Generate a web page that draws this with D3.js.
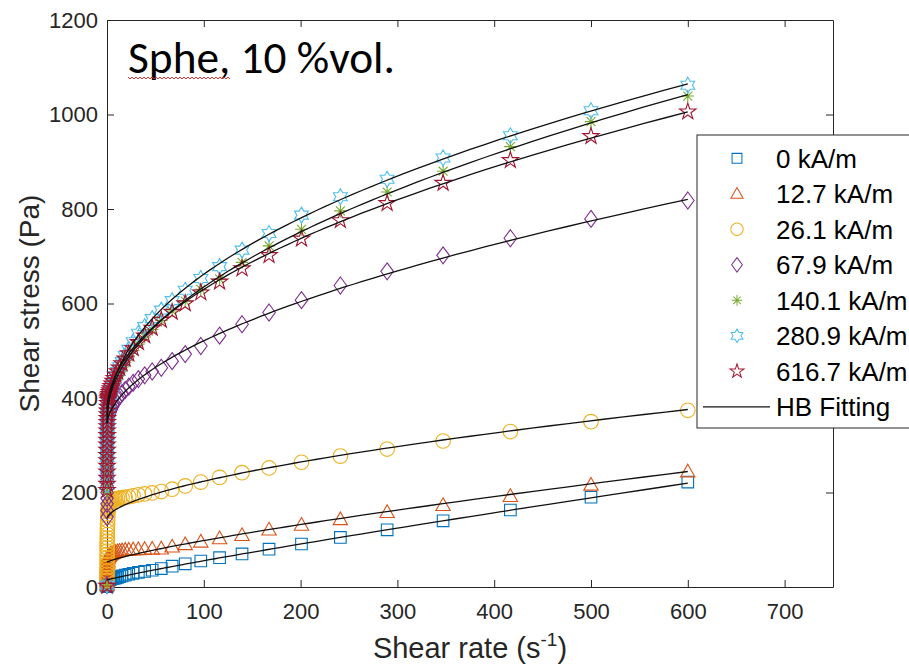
<!DOCTYPE html>
<html><head><meta charset="utf-8">
<script src="https://cdn.jsdelivr.net/npm/d3@7"></script>
<style>
html,body{margin:0;padding:0;background:#fff;}
svg{display:block;}
</style></head>
<body>
<svg id="chart" width="909" height="665"></svg>
<script>
// ---------------- data ----------------
const titleText = "Sphe, 10 %vol.";
const xTitle = "Shear rate (s";
const xTitleSup = "-1";
const yTitle = "Shear stress (Pa)";
const seriesNames = ["0 kA/m", "12.7 kA/m", "26.1 kA/m", "67.9 kA/m", "140.1 kA/m", "280.9 kA/m", "616.7 kA/m"];
const fitName = "HB Fitting";
const xTicks = [0, 100, 200, 300, 400, 500, 600, 700];
const yTicks = [0, 200, 400, 600, 800, 1000, 1200];

// shear rate (1/s)
const rates = [0.027, 0.032, 0.038, 0.046, 0.055, 0.066, 0.079, 0.095, 0.114, 0.137,
  0.164, 0.197, 0.236, 0.283, 0.340, 0.408, 0.490, 0.588, 0.705, 0.846,
  1.02, 1.22, 1.46, 1.75, 2.11, 2.53, 3.03, 3.64, 4.37, 5.24,
  6.29, 7.55, 9.06, 10.9, 13.0, 15.6, 18.8, 22.5, 27.0, 32.4,
  38.9, 46.7, 56.1, 67.3, 80.8, 96.9, 116.3, 139.5, 167.4, 200.9,
  241.1, 289.4, 347.2, 416.7, 500, 600];

// shear stress (Pa) per field strength
const stress0 = [1, 2, 3, 4, 5, 5.5, 6, 6.5, 7, 7.5,
  8, 8.5, 9, 9.5, 10, 10.5, 11, 11.5, 12, 12.5,
  13, 13.5, 14, 14.5, 15, 15.5, 16, 16.5, 17, 17.5,
  18, 18.5, 19.5, 20.5, 22, 23.5, 25, 27, 29, 31,
  33, 35.5, 39, 44, 49, 55, 62, 70, 80, 91,
  105, 121, 140, 163, 190, 222];
const stress127 = [3, 6, 9, 12, 15, 18, 21, 24, 27, 30,
  33, 36, 39, 42, 45, 47, 49, 51, 53, 55,
  60, 62, 64, 65, 66, 67, 68, 69, 70, 71,
  72, 73, 74, 75, 76, 77, 78, 78.5, 79, 79.5,
  80, 80.5, 81, 85, 90, 95.5, 102.5, 109.5, 121, 131,
  143, 158, 173, 192, 216, 244];
const stress261 = [14, 20, 27, 34, 41, 48, 55, 62, 69, 76,
  83, 90, 97, 104, 111, 118, 125, 132, 141, 150,
  160, 163, 166, 169, 172, 174, 176, 178, 180, 182,
  184, 185, 186, 187, 188, 189, 190, 191, 193, 195,
  197, 199, 202, 207, 214, 222, 232, 242, 252, 264,
  277, 292, 309, 329, 350, 374];
const stress679 = [4, 148, 162, 176, 188, 200, 214, 228, 241, 254,
  266, 278, 290, 301, 311, 320, 328, 336, 342, 348,
  353, 357, 360, 362, 365, 367, 370, 373, 376, 380,
  384, 388, 393, 398, 404, 410, 417, 424, 432, 440,
  448, 456, 464, 478, 493, 510, 532, 556, 581, 607,
  638, 668, 702, 738, 779, 818];
const stress1401 = [8, 200, 212, 224, 236, 247, 258, 268, 278, 288,
  297, 306, 315, 323, 331, 339, 346, 354, 362, 371,
  380, 383, 386, 390, 394, 398, 402, 407, 412, 418,
  424, 431, 438, 446, 455, 465, 475, 487, 500, 514,
  529, 545, 564, 584, 605, 630, 652, 687, 722, 757,
  796, 836, 880, 932, 985, 1039];
const stress2809 = [4, 215, 228, 240, 252, 263, 274, 284, 294, 304,
  313, 322, 331, 339, 347, 354, 360, 366, 371, 376,
  380, 383, 387, 391, 395, 400, 405, 411, 417, 423,
  430, 438, 447, 456, 466, 477, 490, 503, 519, 537,
  551, 568, 586, 606, 628, 653, 678, 713, 748, 787,
  826, 863, 908, 955, 1008, 1062];
const stress6167 = [2, 205, 218, 231, 244, 256, 268, 279, 290, 301,
  311, 321, 331, 340, 349, 357, 365, 373, 381, 389,
  396, 399, 402, 405, 408, 412, 416, 420, 425, 430,
  436, 442, 449, 456, 464, 473, 483, 494, 505, 518,
  532, 548, 565, 582, 600, 623, 646, 674, 702, 737,
  776, 812, 855, 903, 954, 1006];

// Herschel-Bulkley fit parameters (tau = tau0 + K * rate^n)
const hbTau0 = [14.7, 52.5, 145.3, 343, 354, 337, 371];
const hbK    = [0.648, 1.15, 4.96, 14.15, 28.1, 40.9, 25.9];
const hbN    = [0.9, 0.8, 0.6, 0.55, 0.5, 0.45, 0.5];
const fitRange = [0.05, 600];

// ---------------- styles ----------------
const colors = ["#0072BD", "#D95319", "#EDB120", "#7E2F8E", "#77AC30", "#4DBEEE", "#A2142F"];
const symbols = ["square", "triangle", "circle", "diamond", "asterisk", "hexagram", "pentagram"];
const stressSeries = [stress0, stress127, stress261, stress679, stress1401, stress2809, stress6167];
const axisColor = "#262626";
const labelFont = "'Liberation Sans', Arial, Helvetica, sans-serif";

function starPath(nPts, rOut, rIn) {
  const pts = d3.range(nPts * 2).map(k => {
    const a = -Math.PI / 2 + k * Math.PI / nPts;
    const r = k % 2 === 0 ? rOut : rIn;
    return [r * Math.cos(a), r * Math.sin(a)];
  });
  return "M" + pts.map(p => p[0].toFixed(2) + "," + p[1].toFixed(2)).join("L") + "Z";
}
function markerPath(type) {
  switch (type) {
    case "square": return "M-5.8,-5.8H5.8V5.8H-5.8Z";
    case "triangle": return "M0,-7.5L7.2,5.2L-7.2,5.2Z";
    case "circle": return "M-7.3,0a7.3,7.3 0 1,0 14.6,0a7.3,7.3 0 1,0 -14.6,0Z";
    case "diamond": return "M0,-8.5L6.3,0L0,8.5L-6.3,0Z";
    case "asterisk": {
      const r = 6.3, d = r * Math.SQRT1_2;
      return `M0,${-r}V${r}M${-r},0H${r}M${-d},${-d}L${d},${d}M${-d},${d}L${d},${-d}`;
    }
    case "hexagram": return starPath(6, 8, 8 / Math.sqrt(3));
    case "pentagram": return starPath(5, 8.6, 8.6 * 0.382);
  }
}

// ---------------- chart ----------------
const svg = d3.select("#chart");
const x = d3.scaleLinear().domain([0, 750]).range([107, 833]);
const y = d3.scaleLinear().domain([0, 1200]).range([587, 20]);

function styleAxis(g) {
  g.selectAll(".domain").attr("stroke", axisColor).attr("stroke-width", 1);
  g.selectAll(".tick line").attr("stroke", axisColor).attr("stroke-width", 1);
  g.selectAll(".tick text").attr("fill", axisColor).style("font-family", labelFont).style("font-size", "22px");
}

svg.append("g").attr("transform", "translate(0,587)")
  .call(d3.axisBottom(x).tickValues(xTicks).tickFormat(d3.format("d")).tickSizeInner(-7).tickSizeOuter(0).tickPadding(16))
  .call(styleAxis);
svg.append("g").attr("transform", "translate(107,0)")
  .call(d3.axisLeft(y).tickValues(yTicks).tickFormat(d3.format("d")).tickSizeInner(-7).tickSizeOuter(0).tickPadding(9))
  .call(styleAxis);
svg.append("g").attr("transform", "translate(0,20)")
  .call(d3.axisTop(x).tickValues(xTicks).tickSizeInner(-7).tickSizeOuter(0).tickFormat(() => ""))
  .call(styleAxis);
svg.append("g").attr("transform", "translate(833,0)")
  .call(d3.axisRight(y).tickValues(yTicks).tickSizeInner(-7).tickSizeOuter(0).tickFormat(() => ""))
  .call(styleAxis);

// data markers
stressSeries.forEach((vals, i) => {
  const pts = rates.map((r, j) => [r, vals[j]]);
  svg.append("g").selectAll("path").data(pts).join("path")
    .attr("transform", d => `translate(${x(d[0])},${y(d[1])})`)
    .attr("d", markerPath(symbols[i]))
    .attr("fill", "none")
    .attr("stroke", colors[i])
    .attr("stroke-width", 1.1);
});

// HB fitting curves
const fitRates = d3.range(0, 241).map(k => fitRange[0] * Math.pow(fitRange[1] / fitRange[0], k / 240));
hbTau0.forEach((t0, i) => {
  const line = d3.line()
    .x(g => x(g))
    .y(g => y(t0 + hbK[i] * Math.pow(g, hbN[i])));
  svg.append("path").datum(fitRates)
    .attr("d", line)
    .attr("fill", "none")
    .attr("stroke", "#111")
    .attr("stroke-width", 1.3);
});

// title annotation
const title = svg.append("text")
  .attr("x", 128).attr("y", 73)
  .style("font-family", "Carlito, Calibri, Lato, 'Open Sans', sans-serif")
  .style("font-size", "40px")
  .attr("fill", "#000")
  .text(titleText);
const tw = title.node().getComputedTextLength();
title.style("font-size", (40 * 267 / tw).toFixed(2) + "px");
const wordLen = title.node().getSubStringLength(0, 5);
const sq = d3.range(0, Math.floor(wordLen / 2) + 1).map(k => [128 + k * 2, 78 + (k % 2 === 0 ? -1 : 1)]);
svg.append("path").attr("d", d3.line()(sq)).attr("fill", "none").attr("stroke", "#e02020").attr("stroke-width", 0.9);

// axis titles
const xt = svg.append("text")
  .attr("x", 470).attr("y", 658)
  .attr("text-anchor", "middle")
  .style("font-family", labelFont).style("font-size", "29px")
  .attr("fill", axisColor);
xt.append("tspan").text(xTitle);
xt.append("tspan").attr("dy", -12).style("font-size", "19px").text(xTitleSup);
xt.append("tspan").attr("dy", 12).text(")");

svg.append("text")
  .attr("transform", "translate(39,303.5) rotate(-90)")
  .attr("text-anchor", "middle")
  .style("font-family", labelFont).style("font-size", "28px")
  .attr("fill", axisColor)
  .text(yTitle);

// legend
const lg = svg.append("g");
lg.append("rect").attr("x", 697).attr("y", 135).attr("width", 240).attr("height", 293)
  .attr("fill", "#fff").attr("stroke", axisColor).attr("stroke-width", 1);
const rowY = k => 158.3 + 35.5 * k;
seriesNames.forEach((name, i) => {
  lg.append("path")
    .attr("transform", `translate(737,${rowY(i)}) scale(0.85)`)
    .attr("d", markerPath(symbols[i]))
    .attr("fill", "none").attr("stroke", colors[i]).attr("stroke-width", 1.2);
  lg.append("text").attr("x", 776).attr("y", rowY(i) + 9.3)
    .style("font-family", labelFont).style("font-size", "26px")
    .attr("fill", "#000").text(name);
});
lg.append("line").attr("x1", 703).attr("x2", 770).attr("y1", rowY(7)).attr("y2", rowY(7))
  .attr("stroke", "#111").attr("stroke-width", 1.3);
lg.append("text").attr("x", 776).attr("y", rowY(7) + 9.3)
  .style("font-family", labelFont).style("font-size", "26px")
  .attr("fill", "#000").text(fitName);
</script>
</body></html>
